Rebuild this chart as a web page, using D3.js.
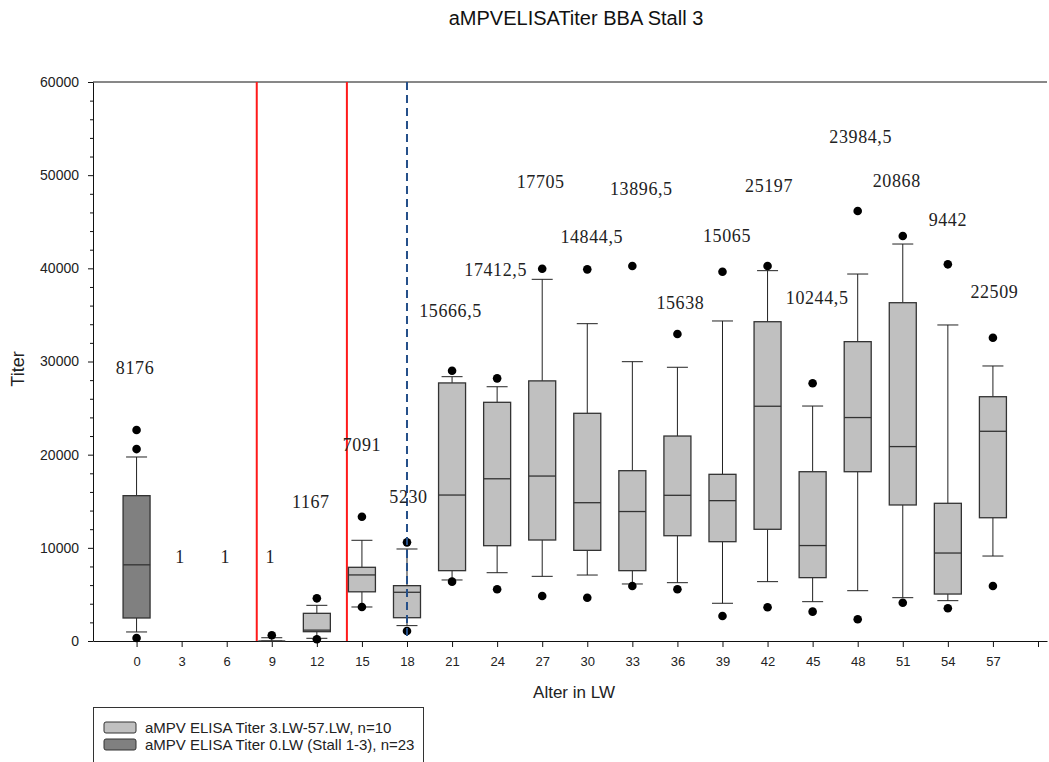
<!DOCTYPE html>
<html>
<head>
<meta charset="utf-8">
<script src="https://cdn.jsdelivr.net/npm/d3@7"></script>
<style>
  body { margin: 0; background: #fff; }
  svg { display: block; }
</style>
</head>
<body>
<svg width="1049" height="762"></svg>
<script>
// Ages (LW) and box statistics
const ages = [0, 3, 6, 9, 12, 15, 18, 21, 24, 27, 30, 33, 36, 39, 42, 45, 48, 51, 54, 57];
const groups = ['dark', null, null, 'light', 'light', 'light', 'light', 'light', 'light', 'light',
  'light', 'light', 'light', 'light', 'light', 'light', 'light', 'light', 'light', 'light'];
const whiskerLow = [970, null, null, 1, 290, 3650, 1650, 6550, 7330, 6940, 7080, 6120, 6260, 4050, 6370, 4220, 5400, 4650, 4330, 9120];
const q1 = [2470, null, null, 1, 1000, 5280, 2500, 7550, 10230, 10840, 9730, 7550, 11300, 10660, 11990, 6800, 18170, 14600, 5040, 13230];
const medians = [8176, null, null, 1, 1167, 7091, 5230, 15666.5, 17412.5, 17705, 14844.5, 13896.5, 15638, 15065, 25197, 10244.5, 23984.5, 20868, 9442, 22509];
const q3 = [15600, null, null, 1, 2970, 7910, 5940, 27700, 25620, 27920, 24440, 18280, 22000, 17890, 34270, 18170, 32130, 36310, 14780, 26220];
const whiskerHigh = [19750, null, null, 350, 3830, 10810, 9875, 28370, 27290, 38820, 34060, 29980, 29380, 34350, 39750, 25220, 39390, 42610, 33920, 29520];
const outliers = [[22650, 20600, 320], [], [], [620], [4580, 180], [13340, 3650], [10590, 1070],
  [29010, 6370], [28190, 5550], [39960, 4830], [39890, 4650], [40250, 5900], [32950, 5550],
  [39640, 2680], [40250, 3620], [27660, 3150], [46150, 2330], [43470, 4110], [40430, 3510], [32550, 5900]];

// median annotations (text, x in LW, y in titer units)
const labelText = ['8176', '1', '1', '1', '1167', '7091', '5230', '15666,5', '17412,5', '17705', '14844,5',
  '13896,5', '15638', '15065', '25197', '10244,5', '23984,5', '20868', '9442', '22509'];
const labelX = [-0.1, 2.9, 5.9, 8.9, 11.6, 15.0, 18.1, 20.9, 23.9, 26.9, 30.3, 33.6, 36.2, 39.3, 42.1, 45.3, 48.2, 50.6, 54.0, 57.1];
const labelY = [29300, 9000, 9000, 9000, 14900, 21100, 15450, 35500, 39800, 49250, 43350, 48600, 36350, 43450, 48900, 36900, 54100, 49450, 45200, 37450];

const redLines = [8, 14];
const blueLines = [18];

const xTicks = d3.range(0, 61, 3);
const yMajor = d3.range(0, 60001, 10000);
const yMinor = d3.range(0, 60001, 2000).filter(v => v % 10000 !== 0);

const legendItems = [
  { label: 'aMPV ELISA Titer 3.LW-57.LW, n=10', fill: '#c0c0c0' },
  { label: 'aMPV ELISA Titer 0.LW (Stall 1-3), n=23', fill: '#808080' }
];

const svg = d3.select('svg');
const sans = 'Arial, "Liberation Sans", sans-serif';
const serif = '"Times New Roman", "Liberation Serif", serif';

const x = d3.scaleLinear().domain([-2.9, 60.6]).range([93, 1047]);
const y = d3.scaleLinear().domain([0, 60000]).range([641, 82]);

// title
svg.append('text')
  .attr('x', 576).attr('y', 25)
  .attr('text-anchor', 'middle')
  .style('font-family', sans).style('font-size', '20px').style('fill', '#111')
  .text('aMPVELISATiter BBA Stall 3');

// top frame line
svg.append('line')
  .attr('x1', x.range()[0]).attr('x2', x.range()[1])
  .attr('y1', y(60000)).attr('y2', y(60000))
  .attr('stroke', '#111').attr('stroke-width', 1);

// y axis
const yAxis = svg.append('g')
  .attr('transform', `translate(${x.range()[0]},0)`)
  .call(d3.axisLeft(y).tickValues(yMajor).tickSize(5).tickSizeOuter(0).tickPadding(9).tickFormat(d3.format('d')));
svg.append('g')
  .attr('transform', `translate(${x.range()[0]},0)`)
  .call(d3.axisLeft(y).tickValues(yMinor).tickSize(3).tickFormat(''))
  .call(g => g.select('.domain').remove());
yAxis.selectAll('text').style('font-family', sans).style('font-size', '14px').style('fill', '#222');

// x axis
const xAxis = svg.append('g')
  .attr('transform', `translate(0,${y(0)})`)
  .call(d3.axisBottom(x).tickValues(xTicks).tickSize(6).tickSizeOuter(0).tickPadding(10)
    .tickFormat(d => d <= 57 ? d : ''));
xAxis.selectAll('text').style('font-family', sans).style('font-size', '13px').style('fill', '#222');
svg.selectAll('.domain, .tick line').attr('stroke', '#111');

// axis titles
svg.append('text')
  .attr('x', 574).attr('y', 698)
  .attr('text-anchor', 'middle')
  .style('font-family', sans).style('font-size', '17px').style('fill', '#222')
  .text('Alter in LW');
svg.append('text')
  .attr('transform', `translate(24,${y(29200)}) rotate(-90)`)
  .attr('text-anchor', 'middle')
  .style('font-family', sans).style('font-size', '18px').style('fill', '#222')
  .text('Titer');

// reference lines
svg.selectAll('.red')
  .data(redLines)
  .enter()
  .append('line')
  .attr('x1', d => x(d)).attr('x2', d => x(d))
  .attr('y1', y(60000)).attr('y2', y(0))
  .attr('stroke', '#ff1a1a').attr('stroke-width', 2);

// boxes
const boxes = ages.map((a, i) => ({
  age: a, group: groups[i], lo: whiskerLow[i], q1: q1[i], med: medians[i], q3: q3[i], hi: whiskerHigh[i], out: outliers[i]
})).filter(d => d.group !== null);

const bw = 27, cw = 21;
const bg = svg.selectAll('.box')
  .data(boxes)
  .enter()
  .append('g')
  .attr('class', 'box');

bg.append('line')
  .attr('x1', d => x(d.age)).attr('x2', d => x(d.age))
  .attr('y1', d => y(d.hi)).attr('y2', d => y(d.q3))
  .attr('stroke', '#222');
bg.append('line')
  .attr('x1', d => x(d.age)).attr('x2', d => x(d.age))
  .attr('y1', d => y(d.q1)).attr('y2', d => y(d.lo))
  .attr('stroke', '#222');
bg.append('line')
  .attr('x1', d => x(d.age) - cw / 2).attr('x2', d => x(d.age) + cw / 2)
  .attr('y1', d => y(d.hi)).attr('y2', d => y(d.hi))
  .attr('stroke', '#222');
bg.append('line')
  .attr('x1', d => x(d.age) - cw / 2).attr('x2', d => x(d.age) + cw / 2)
  .attr('y1', d => y(d.lo)).attr('y2', d => y(d.lo))
  .attr('stroke', '#222');
bg.append('rect')
  .attr('x', d => x(d.age) - bw / 2)
  .attr('y', d => y(d.q3))
  .attr('width', bw)
  .attr('height', d => y(d.q1) - y(d.q3))
  .attr('fill', d => d.group === 'dark' ? '#808080' : '#c0c0c0')
  .attr('stroke', '#333').attr('stroke-width', 1.3);
bg.append('line')
  .attr('x1', d => x(d.age) - bw / 2).attr('x2', d => x(d.age) + bw / 2)
  .attr('y1', d => y(d.med)).attr('y2', d => y(d.med))
  .attr('stroke', '#333').attr('stroke-width', 1.3);
bg.selectAll('circle')
  .data(d => d.out.map(v => ({ age: d.age, v: v })))
  .enter()
  .append('circle')
  .attr('cx', d => x(d.age)).attr('cy', d => y(d.v))
  .attr('r', 4.3)
  .attr('fill', '#000');

svg.selectAll('.blue')
  .data(blueLines)
  .enter()
  .append('line')
  .attr('x1', d => x(d)).attr('x2', d => x(d))
  .attr('y1', y(60000)).attr('y2', y(0))
  .attr('stroke', '#25508a').attr('stroke-width', 2)
  .attr('stroke-dasharray', '8,5');

// median annotations
svg.selectAll('.lab')
  .data(labelText)
  .enter()
  .append('text')
  .attr('x', (d, i) => x(labelX[i]))
  .attr('y', (d, i) => y(labelY[i]))
  .attr('dy', '0.35em')
  .attr('text-anchor', 'middle')
  .style('font-family', serif).style('font-size', '18px').style('fill', '#222')
  .style('letter-spacing', '0.6px')
  .text(d => d);

// legend
const lg = svg.append('g');
lg.append('rect')
  .attr('x', 93.5).attr('y', 707.5).attr('width', 330).attr('height', 70)
  .attr('fill', '#fff').attr('stroke', '#333');
const li = lg.selectAll('.li')
  .data(legendItems)
  .enter()
  .append('g')
  .attr('transform', (d, i) => `translate(104,${722 + i * 17})`);
li.append('rect')
  .attr('width', 32).attr('height', 11).attr('rx', 2)
  .attr('fill', d => d.fill).attr('stroke', '#333');
li.append('text')
  .attr('x', 41).attr('y', 6).attr('dy', '0.35em')
  .style('font-family', sans).style('font-size', '15px').style('fill', '#222')
  .text(d => d.label);
</script>
</body>
</html>
